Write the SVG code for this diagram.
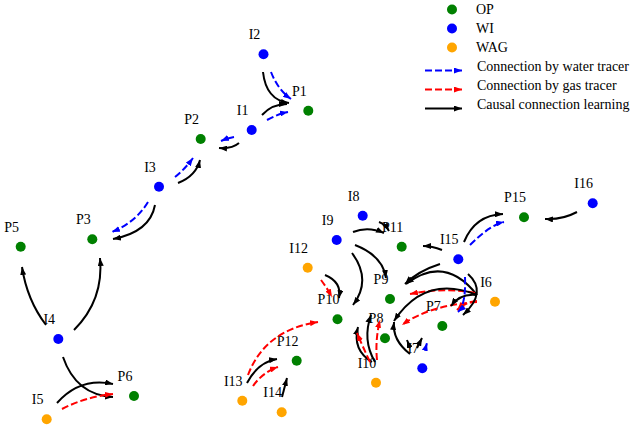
<svg xmlns="http://www.w3.org/2000/svg" width="638" height="429" viewBox="0 0 638 429">
<style>
text{font-family:"Liberation Serif","DejaVu Serif",serif;font-size:14px;fill:#000}
.lbl{text-anchor:middle}
.op{fill:#008000}.wi{fill:#0000ff}.wag{fill:#ffa500}
.k{fill:none;stroke:#000;stroke-width:2;marker-end:url(#ak)}
.b{fill:none;stroke:#0000ff;stroke-width:2;stroke-dasharray:7,3;marker-end:url(#ab)}
.r{fill:none;stroke:#ff0000;stroke-width:2;stroke-dasharray:7,3;marker-end:url(#ar)}
</style>
<defs>
<marker id="ak" markerUnits="userSpaceOnUse" markerWidth="8" markerHeight="6" refX="8" refY="3" orient="auto"><path d="M0,0 L8,3 L0,6 z" fill="#000"/></marker>
<marker id="ab" markerUnits="userSpaceOnUse" markerWidth="8" markerHeight="6" refX="8" refY="3" orient="auto"><path d="M0,0 L8,3 L0,6 z" fill="#0000ff"/></marker>
<marker id="ar" markerUnits="userSpaceOnUse" markerWidth="8" markerHeight="6" refX="8" refY="3" orient="auto"><path d="M0,0 L8,3 L0,6 z" fill="#ff0000"/></marker>
</defs>
<rect width="638" height="429" fill="#fff"/>
<g id="legend">
<circle cx="452" cy="9.5" r="5" class="op"/><text x="476" y="14">OP</text>
<circle cx="452" cy="28.5" r="5" class="wi"/><text x="476" y="33">WI</text>
<circle cx="452" cy="47.5" r="5" class="wag"/><text x="476" y="52">WAG</text>
<path class="b" d="M425,70.5 L462,70.5"/><text x="477" y="71">Connection by water tracer</text>
<path class="r" d="M425,89.5 L462,89.5"/><text x="477" y="90">Connection by gas tracer</text>
<path class="k" d="M425,108.5 L462,108.5"/><text x="477" y="109">Causal connection learning</text>
</g>
<g id="nodes">
<g id="I2"><circle cx="263.5" cy="54.3" r="5" class="wi"/><text class="lbl" x="254.5" y="39.3">I2</text></g>
<g id="P1"><circle cx="308.3" cy="110.7" r="5" class="op"/><text class="lbl" x="299.3" y="95.7">P1</text></g>
<g id="I1"><circle cx="251.7" cy="130" r="5" class="wi"/><text class="lbl" x="242.7" y="115">I1</text></g>
<g id="P2"><circle cx="200.7" cy="139" r="5" class="op"/><text class="lbl" x="191.7" y="124">P2</text></g>
<g id="I3"><circle cx="159" cy="186.7" r="5" class="wi"/><text class="lbl" x="150" y="171.7">I3</text></g>
<g id="P3"><circle cx="92.3" cy="239.3" r="5" class="op"/><text class="lbl" x="83.3" y="224.3">P3</text></g>
<g id="P5"><circle cx="20.7" cy="246.7" r="5" class="op"/><text class="lbl" x="11.7" y="231.7">P5</text></g>
<g id="I4"><circle cx="58.3" cy="339" r="5" class="wi"/><text class="lbl" x="49.3" y="324">I4</text></g>
<g id="P6"><circle cx="134" cy="396" r="5" class="op"/><text class="lbl" x="125" y="381">P6</text></g>
<g id="I5"><circle cx="46.7" cy="419.3" r="5" class="wag"/><text class="lbl" x="37.7" y="404.3">I5</text></g>
<g id="I8"><circle cx="362.7" cy="215.7" r="5" class="wi"/><text class="lbl" x="353.7" y="200.7">I8</text></g>
<g id="I9"><circle cx="336.7" cy="240" r="5" class="wi"/><text class="lbl" x="327.7" y="225">I9</text></g>
<g id="P11"><circle cx="401.7" cy="246.7" r="5" class="op"/><text class="lbl" x="392.7" y="231.7">P11</text></g>
<g id="I12"><circle cx="307.7" cy="267.7" r="5" class="wag"/><text class="lbl" x="298.7" y="252.7">I12</text></g>
<g id="I15"><circle cx="458.3" cy="259.3" r="5" class="wi"/><text class="lbl" x="449.3" y="244.3">I15</text></g>
<g id="P15"><circle cx="524" cy="217.3" r="5" class="op"/><text class="lbl" x="515" y="202.3">P15</text></g>
<g id="I16"><circle cx="592.7" cy="203.3" r="5" class="wi"/><text class="lbl" x="583.7" y="188.3">I16</text></g>
<g id="P9"><circle cx="390" cy="299" r="5" class="op"/><text class="lbl" x="381" y="284">P9</text></g>
<g id="I6"><circle cx="495" cy="301.7" r="5" class="wag"/><text class="lbl" x="486" y="286.7">I6</text></g>
<g id="P10"><circle cx="337.5" cy="319.3" r="5" class="op"/><text class="lbl" x="328.5" y="304.3">P10</text></g>
<g id="P7"><circle cx="442.3" cy="326" r="5" class="op"/><text class="lbl" x="433.3" y="311">P7</text></g>
<g id="P8"><circle cx="385" cy="338.3" r="5" class="op"/><text class="lbl" x="376" y="323.3">P8</text></g>
<g id="P12"><circle cx="296.7" cy="360.7" r="5" class="op"/><text class="lbl" x="287.7" y="345.7">P12</text></g>
<g id="I7"><circle cx="422.3" cy="368.3" r="5" class="wi"/><text class="lbl" x="413.3" y="353.3">I7</text></g>
<g id="I10"><circle cx="376" cy="382.7" r="5" class="wag"/><text class="lbl" x="367" y="367.7">I10</text></g>
<g id="I13"><circle cx="242.3" cy="400.7" r="5" class="wag"/><text class="lbl" x="233.3" y="385.7">I13</text></g>
<g id="I14"><circle cx="281.7" cy="412.3" r="5" class="wag"/><text class="lbl" x="272.7" y="397.3">I14</text></g>
</g>
<g id="connectors">
<path class="k" d="M263,72 Q266,100 289,103"/>
<path class="b" d="M271,72 Q278,90 291,99"/>
<path class="k" d="M262,115 Q272,104 287,104"/>
<path class="b" d="M267,120 Q278,114 288,112"/>
<path class="b" d="M234,137 Q228,138 221,141"/>
<path class="k" d="M239,143 Q232,149 219,148"/>
<path class="b" d="M175,177 Q185,169 193,158"/>
<path class="k" d="M178,183 Q196,176 200,160"/>
<path class="b" d="M148,202 Q136,222 112,232"/>
<path class="k" d="M155,205 Q150,232 113,239"/>
<path class="k" d="M74,330 Q104,300 100,258"/>
<path class="k" d="M46,325 Q27,300 22,267"/>
<path class="k" d="M63,357 Q76,395 113,397"/>
<path class="k" d="M57,403 Q80,377 113,384"/>
<path class="r" d="M62,409 Q85,397 113,394"/>
<path class="k" d="M353,232 Q368,226 384,233"/>
<path class="k" d="M379,222 Q385,224 389,231"/>
<path class="k" d="M355,245 Q383,256 386,278"/>
<path class="k" d="M352,253 Q372,280 353,305"/>
<path class="k" d="M325,275 Q342,282 339,298"/>
<path class="r" d="M321,280 Q327,288 332,297"/>
<path class="k" d="M442,250 Q432,246 423,246"/>
<path class="k" d="M440,264 Q418,271 405,284"/>
<path class="k" d="M477,295 Q445,254 406,284"/>
<path class="r" d="M475,293 Q445,287 410,294"/>
<path class="k" d="M477,295 Q425,274 394,321"/>
<path class="r" d="M477,302 Q430,305 402,325"/>
<path class="k" d="M477,295 Q460,293 451,306"/>
<path class="r" d="M477,301 Q465,302 457,310"/>
<path class="k" d="M468,274 Q488,292 463,315"/>
<path class="b" d="M465,277 Q466,305 458,312"/>
<path class="k" d="M410,354 Q392,340 394,322"/>
<path class="k" d="M410,348 L407,340"/>
<path class="k" d="M417,348 L422,338"/>
<path class="b" d="M425,350 L427,343"/>
<path class="k" d="M375,362 Q362,340 371,315"/>
<path class="k" d="M372,362 Q352,350 358,327"/>
<path class="r" d="M377,360 Q375,340 380,320"/>
<path class="r" d="M370,362 Q362,345 357,333"/>
<path class="r" d="M248,375 Q265,330 318,322"/>
<path class="k" d="M247,383 Q258,362 277,359"/>
<path class="r" d="M253,386 Q263,372 278,367"/>
<path class="k" d="M282,397 L287,378"/>
<path class="k" d="M577,212 Q562,220 545,219"/>
<path class="k" d="M464,242 Q475,215 503,214"/>
<path class="b" d="M470,245 Q490,225 504,222"/>
</g>
</svg>
